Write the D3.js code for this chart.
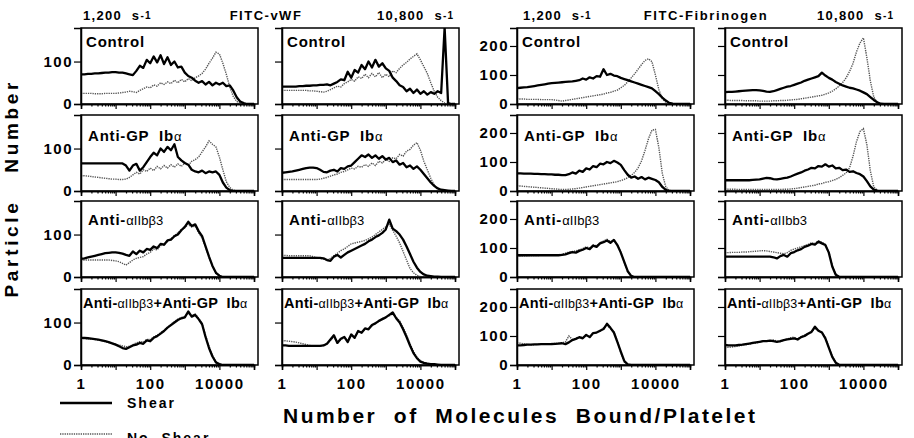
<!DOCTYPE html>
<html>
<head>
<meta charset="utf-8">
<script src="https://cdn.jsdelivr.net/npm/d3@7"></script>
<style>
body { margin: 0; background: #fff; }
text { font-family: "Liberation Sans", Arial, sans-serif; font-weight: bold; fill: #000; white-space: pre; }
</style>
</head>
<body>
<svg id="chart" width="914" height="438"></svg>
<script>
// histogram channels, log10 of molecules bound (0 .. 5 in 0.1 steps)
var logBins = d3.range(51).map(function(i) { return i / 10; });

// ---- FITC-vWF, 1,200 s-1 ----
var vwfLowControlShear   = [70,70,71,71,72,72,73,74,74,75, 75,74,74,72,70,68,78,90,85,104, 96,112,98,115,94,110,92,100,86,88, 74,66,62,55,50,54,46,52,44,50, 46,50,42,44,32,16,6,2,0,0, 0];
var vwfLowControlNoShear = [25,25,25,25,24,24,24,25,25,25, 25,26,27,28,30,29,27,32,36,40, 38,45,42,50,46,52,48,56,50,58, 52,60,55,62,66,72,82,96,108,122, 118,96,70,40,18,6,2,0,0,0, 0];
var vwfLowGPShear        = [65,65,65,65,65,65,65,65,65,65, 65,65,65,60,48,60,64,48,56,68, 80,90,84,100,92,104,96,110,80,72, 66,62,50,46,44,48,42,46,44,46, 38,20,8,2,0,0,0,0,0,0, 0];
var vwfLowGPNoShear      = [36,36,35,34,33,32,31,30,29,28, 28,27,27,28,32,38,44,40,50,46, 54,48,58,52,60,54,62,56,64,58, 66,60,70,74,80,92,104,118,110,104, 80,50,22,8,2,0,0,0,0,0, 0];
var vwfLowIIbShear       = [43,44,46,48,50,52,54,56,57,58, 58,57,55,52,50,60,54,62,58,66, 64,72,68,78,76,86,88,96,100,110, 118,130,120,124,108,96,72,48,26,10, 3,0,0,0,0,0,0,0,0,0, 0];
var vwfLowIIbNoShear     = [40,40,40,40,40,40,40,40,40,39, 38,36,32,28,34,40,44,46,48,54, 58,66,64,74,76,84,90,98,104,112, 116,124,118,120,104,92,70,46,24,8, 2,0,0,0,0,0,0,0,0,0, 0];
var vwfLowBothShear      = [64,64,63,62,61,60,58,56,54,51, 48,44,40,38,42,46,48,52,50,58, 56,64,68,74,80,88,94,100,106,110, 112,126,114,118,108,96,66,40,20,6, 2,0,0,0,0,0,0,0,0,0, 0];
var vwfLowBothNoShear    = [62,62,62,61,60,59,57,55,53,51, 49,47,45,43,44,48,52,55,54,60, 60,66,70,76,82,88,96,102,108,112, 114,122,116,120,110,98,70,44,22,8, 2,0,0,0,0,0,0,0,0,0, 0];

// ---- FITC-vWF, 10,800 s-1 ----
var vwfHighControlShear   = [41,41,41,41,41,42,42,43,43,44, 44,45,45,46,44,48,52,58,56,76, 62,80,74,92,82,100,86,104,88,96, 84,78,62,54,44,40,30,36,26,34, 24,30,22,28,24,30,26,180,2,0, 0];
var vwfHighControlNoShear = [32,32,32,32,32,32,32,32,31,31, 30,29,28,30,34,38,42,40,48,52, 58,54,64,60,70,62,72,64,74,62, 70,64,78,74,84,92,98,106,112,118, 104,88,72,50,30,16,8,2,0,0, 0];
var vwfHighGPShear        = [43,44,45,46,48,50,52,54,55,55, 54,50,45,44,48,50,46,54,52,58, 60,68,76,84,80,86,78,84,76,82, 74,78,68,72,62,66,56,60,52,58, 50,40,30,20,12,6,3,2,1,0, 0];
var vwfHighGPNoShear      = [27,27,27,27,27,27,27,27,27,27, 27,28,30,32,35,38,40,44,46,50, 54,52,58,56,62,58,66,60,70,66, 74,70,78,76,86,82,94,98,108,114, 96,70,50,30,14,6,2,0,0,0, 0];
var vwfHighIIbShear       = [45,45,45,45,45,45,45,45,45,45, 45,45,44,40,38,48,52,46,52,58, 62,66,70,74,78,84,88,94,98,104, 112,135,114,108,100,88,72,54,36,22, 12,6,3,2,1,1,0,0,0,0, 0];
var vwfHighIIbNoShear     = [51,51,50,50,50,50,50,50,50,48, 46,44,42,40,44,50,56,62,66,72, 78,80,82,84,86,90,94,100,106,112, 118,124,110,96,80,60,40,20,10,4, 1,0,0,0,0,0,0,0,0,0, 0];
var vwfHighBothShear      = [46,46,45,45,45,45,45,45,45,45, 45,45,46,50,60,70,52,62,66,54, 72,64,80,76,86,84,94,98,104,108, 112,118,124,110,100,84,66,46,28,16, 8,5,3,2,2,1,0,0,0,0, 0];
var vwfHighBothNoShear    = [57,57,56,55,54,52,50,48,46,45, 45,45,46,50,58,66,54,60,64,58, 70,66,78,78,84,86,92,100,102,110, 114,116,120,112,104,88,70,50,32,18, 10,6,4,3,2,1,0,0,0,0, 0];

// ---- FITC-Fibrinogen, 1,200 s-1 ----
var fibLowControlShear   = [55,56,57,58,60,62,64,66,68,70, 72,73,74,75,76,77,78,80,82,88, 84,92,88,96,94,120,100,104,98,96, 90,86,82,78,74,70,66,62,58,54, 44,34,22,12,4,1,0,0,0,0, 0];
var fibLowControlNoShear = [18,17,17,16,16,16,16,15,15,15, 15,14,12,10,12,14,16,18,20,22, 24,26,28,30,32,34,38,40,44,48, 56,64,76,90,104,120,136,150,156,146, 100,50,18,6,1,0,0,0,0,0, 0];
var fibLowGPShear        = [61,61,60,60,60,59,59,58,58,57, 57,56,56,55,55,58,64,60,70,66, 78,74,86,82,94,92,100,96,104,98, 90,72,56,46,50,42,48,40,46,42, 38,30,14,4,0,0,0,0,0,0, 0];
var fibLowGPNoShear      = [18,17,16,15,14,13,12,11,10,9, 8,7,6,5,5,6,7,8,10,12, 14,16,18,20,22,24,26,28,30,32, 36,40,46,54,64,80,104,140,180,210, 212,150,60,14,2,0,0,0,0,0, 0];
var fibLowIIbShear       = [75,75,75,75,75,75,75,75,75,75, 75,75,75,76,78,82,86,84,90,94, 100,96,108,104,116,120,126,118,128,110, 84,52,20,4,0,0,0,0,0,0, 0,0,0,0,0,0,0,0,0,0, 0];
var fibLowIIbNoShear     = [72,72,73,73,74,74,74,75,75,75, 76,76,77,78,82,86,88,90,94,98, 104,100,110,108,118,124,130,122,126,112, 86,50,18,3,0,0,0,0,0,0, 0,0,0,0,0,0,0,0,0,0, 0];
var fibLowBothShear      = [68,68,69,70,70,71,71,72,72,72, 72,73,74,75,72,78,86,90,96,92, 104,96,110,112,118,124,142,128,112,80, 46,14,2,0,0,0,0,0,0,0, 0,0,0,0,0,0,0,0,0,0, 0];
var fibLowBothNoShear    = [76,75,73,71,70,70,71,72,72,73, 74,74,75,76,80,100,88,92,94,96, 100,98,108,114,116,128,136,126,114,84, 42,10,1,0,0,0,0,0,0,0, 0,0,0,0,0,0,0,0,0,0, 0];

// ---- FITC-Fibrinogen, 10,800 s-1 ----
var fibHighControlShear   = [41,42,42,43,44,45,46,47,48,48, 47,45,43,42,44,48,52,56,60,62, 66,70,74,80,84,88,92,96,108,98, 90,84,76,70,64,60,56,54,50,46, 40,34,24,14,6,1,0,0,0,0, 0];
var fibHighControlNoShear = [13,13,12,12,12,12,11,11,11,11, 10,10,10,10,11,11,12,12,13,14, 15,16,18,20,22,24,26,28,30,34, 38,44,52,62,74,90,112,140,180,210, 228,160,80,24,5,1,0,0,0,0, 0];
var fibHighGPShear        = [37,37,37,37,37,37,37,37,38,39, 40,43,45,44,41,40,42,44,46,50, 55,60,64,70,74,80,78,86,84,92, 84,88,78,80,72,74,66,68,62,58, 50,34,16,5,1,0,0,0,0,0, 0];
var fibHighGPNoShear      = [7,6,6,6,5,5,5,5,5,5, 5,5,5,5,5,5,5,6,6,7, 8,10,12,14,16,18,20,24,26,30, 32,36,40,46,54,62,80,120,170,205, 215,160,70,14,2,0,0,0,0,0, 0];
var fibHighIIbShear       = [70,70,70,70,70,70,70,70,70,70, 70,70,70,70,68,64,72,76,70,82, 86,92,96,104,108,114,112,122,116,110, 84,36,8,1,0,0,0,0,0,0, 0,0,0,0,0,0,0,0,0,0, 0];
var fibHighIIbNoShear     = [84,84,85,85,85,86,86,87,88,89, 90,91,90,88,86,84,82,80,84,92, 96,100,104,108,112,118,116,124,120,112, 86,40,10,1,0,0,0,0,0,0, 0,0,0,0,0,0,0,0,0,0, 0];
var fibHighBothShear      = [69,68,68,68,69,70,72,74,76,78, 80,82,82,84,82,80,82,86,88,90, 92,88,96,100,108,114,132,118,112,92, 60,28,8,1,0,0,0,0,0,0, 0,0,0,0,0,0,0,0,0,0, 0];
var fibHighBothNoShear    = [60,61,62,64,66,68,70,72,74,76, 80,82,84,84,86,82,80,86,90,94, 96,90,98,104,110,116,124,120,114,96, 62,30,8,1,0,0,0,0,0,0, 0,0,0,0,0,0,0,0,0,0, 0];

// panel labels: [text, "b" bold | "g" thin greek part]
var labelControl = [["Control", "b"]];
var labelGP      = [["Anti-GP  Ib", "b"], ["α", "g"]];
var labelIIb     = [["Anti-", "b"], ["αIIbβ3", "g"]];
var labelIIbTypo = [["Anti-", "b"], ["αIIbb3", "g"]];
var labelBoth    = [["Anti-", "b"], ["αIIbβ3", "g"], ["+Anti-GP  Ib", "b"], ["α", "g"]];

var rowLabels = [labelControl, labelGP, labelIIb, labelBoth];
var colShears = [
  [[vwfLowControlShear, vwfLowControlNoShear], [vwfLowGPShear, vwfLowGPNoShear], [vwfLowIIbShear, vwfLowIIbNoShear], [vwfLowBothShear, vwfLowBothNoShear]],
  [[vwfHighControlShear, vwfHighControlNoShear], [vwfHighGPShear, vwfHighGPNoShear], [vwfHighIIbShear, vwfHighIIbNoShear], [vwfHighBothShear, vwfHighBothNoShear]],
  [[fibLowControlShear, fibLowControlNoShear], [fibLowGPShear, fibLowGPNoShear], [fibLowIIbShear, fibLowIIbNoShear], [fibLowBothShear, fibLowBothNoShear]],
  [[fibHighControlShear, fibHighControlNoShear], [fibHighGPShear, fibHighGPNoShear], [fibHighIIbShear, fibHighIIbNoShear], [fibHighBothShear, fibHighBothNoShear]]
];

var yTicksVwf = [0, 100], yTicksFib = [0, 100, 200];
var xMajor = [1, 10, 100, 1000, 10000, 100000];
var xLabelled = [1, 100, 10000];
var xMinor = [];
xMajor.slice(0, 5).forEach(function(d) { for (var k = 2; k < 10; k++) xMinor.push(d * k); });

// layout
var colX = [81, 282, 517, 725];
var rowBottom = [104, 191, 277, 365];
var decadePx = 34.6, frameW = 177, frameH = 76;
var labelDy = [19, 26, 24, 19], labelDx = [5, 7, 7, 2];

var svg = d3.select("#chart");
var defs = svg.append("defs");

var panels = [];
colShears.forEach(function(col, c) {
  col.forEach(function(pair, r) {
    var lab = rowLabels[r];
    if (c == 3 && r == 2) lab = labelIIbTypo;
    panels.push({ col: c, row: r, shear: pair[0], noShear: pair[1], label: lab });
  });
});

panels.forEach(function(p, idx) {
  var x0 = colX[p.col], yb = rowBottom[p.row];
  var x = d3.scaleLog().domain([1, 1e5]).range([x0, x0 + 5 * decadePx]);
  var yMax = p.col < 2 ? 179 : 262;
  var y = d3.scaleLinear().domain([0, yMax]).range([yb, yb - frameH]);
  var g = svg.append("g");

  defs.append("clipPath").attr("id", "clip" + idx)
    .append("rect").attr("x", x0).attr("y", yb - frameH).attr("width", frameW).attr("height", frameH);

  g.append("rect")
    .attr("x", x0).attr("y", yb - frameH).attr("width", frameW).attr("height", frameH)
    .attr("fill", "none").attr("stroke", "#000").attr("stroke-width", 1.5);

  var line = d3.line()
    .x(function(d, i) { return x(Math.pow(10, logBins[i])); })
    .y(function(d) { return y(d); });

  var lines = g.append("g").attr("clip-path", "url(#clip" + idx + ")");
  lines.append("path").datum(p.noShear).attr("d", line)
    .attr("fill", "none").attr("stroke", "#555").attr("stroke-width", 1.4)
    .attr("stroke-dasharray", "1.3,1");
  lines.append("path").datum(p.shear).attr("d", line)
    .attr("fill", "none").attr("stroke", "#000").attr("stroke-width", 2.3)
    .attr("stroke-linejoin", "round");

  // x axis: major + minor ticks
  var xAxisMajor = d3.axisBottom(x).tickValues(xMajor).tickSize(5)
    .tickFormat(function(d) { return (p.row == 3 && xLabelled.indexOf(d) >= 0) ? String(d) : ""; });
  var ax = g.append("g").attr("transform", "translate(0," + yb + ")").call(xAxisMajor);
  ax.selectAll("text").attr("dy", "1.05em").attr("y", 8).style("font-size", "15px").style("letter-spacing", "1.6px")
    .style("font-family", "Liberation Sans, Arial, sans-serif").style("font-weight", "bold");
  g.append("g").attr("transform", "translate(0," + yb + ")")
    .call(d3.axisBottom(x).tickValues(xMinor).tickSize(2.5).tickFormat(""));

  // y axis
  var yAxis = d3.axisLeft(y).tickValues(p.col < 2 ? yTicksVwf : yTicksFib).tickSize(7).tickPadding(1)
    .tickFormat(function(d) { return (p.col == 0 || p.col == 2) ? String(d) : ""; });
  var ay = g.append("g").attr("transform", "translate(" + x0 + ",0)").call(yAxis);
  ay.selectAll("text").style("font-size", "15px").style("letter-spacing", "1.5px")
    .style("font-family", "Liberation Sans, Arial, sans-serif").style("font-weight", "bold");
  g.selectAll(".domain").attr("stroke-width", 1.5);
  g.selectAll(".tick line").attr("stroke-width", 1.2);

  // panel label (bottom row is the long one, set a touch tighter)
  var longOne = p.row == 3;
  var t = g.append("text")
    .attr("x", x0 + labelDx[p.row]).attr("y", yb - frameH + labelDy[p.row])
    .style("font-size", longOne ? "14.5px" : "15px").style("letter-spacing", longOne ? "0.3px" : "0.8px");
  p.label.forEach(function(s) {
    var ts = t.append("tspan").text(s[0]);
    if (s[1] == "g") ts.style("font-weight", "normal").style("font-size", longOne ? "12.5px" : "13px").style("letter-spacing", "0.1px");
  });
});

// column headers
function shearHeader(x, txt) {
  var t = svg.append("text").attr("x", x).attr("y", 20).style("font-size", "13px").style("letter-spacing", "1.3px");
  t.append("tspan").text(txt + "  s");
  t.append("tspan").text("-1").style("font-size", "10px").attr("dy", -1);
}
shearHeader(83, "1,200");
shearHeader(377, "10,800");
shearHeader(523, "1,200");
shearHeader(817, "10,800");
svg.append("text").attr("x", 266).attr("y", 20).attr("text-anchor", "middle")
  .style("font-size", "13px").style("letter-spacing", "1.5px").text("FITC-vWF");
svg.append("text").attr("x", 706).attr("y", 20).attr("text-anchor", "middle")
  .style("font-size", "13px").style("letter-spacing", "1.6px").text("FITC-Fibrinogen");

// axis titles
svg.append("text").attr("transform", "translate(18,190) rotate(-90)").attr("text-anchor", "middle")
  .style("font-size", "19px").attr("textLength", 215).attr("lengthAdjust", "spacing")
  .text("Particle   Number");
svg.append("text").attr("x", 283).attr("y", 423)
  .style("font-size", "21px").attr("textLength", 472).attr("lengthAdjust", "spacing")
  .text("Number  of  Molecules  Bound/Platelet");

// legend
svg.append("line").attr("x1", 60).attr("x2", 112).attr("y1", 403).attr("y2", 403)
  .attr("stroke", "#000").attr("stroke-width", 2.3);
svg.append("text").attr("x", 127).attr("y", 408).style("font-size", "14px").style("letter-spacing", "2px").text("Shear");
svg.append("line").attr("x1", 60).attr("x2", 112).attr("y1", 434).attr("y2", 434)
  .attr("stroke", "#555").attr("stroke-width", 1.4).attr("stroke-dasharray", "1.3,1");
svg.append("text").attr("x", 127).attr("y", 443).style("font-size", "14px").style("letter-spacing", "2px").text("No  Shear");
</script>
</body>
</html>
